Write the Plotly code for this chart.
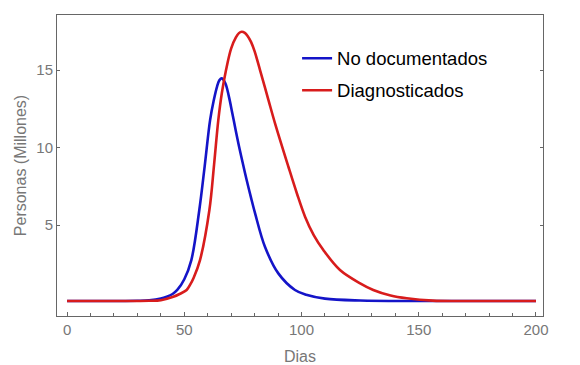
import plotly.graph_objects as go

# Data
dias_nodoc = [0, 20, 30, 35, 40, 42.5, 45, 47, 50, 53, 56.4, 58.7, 61, 62.5, 64, 65,
              66, 67.5, 69, 70.5, 72, 73.3, 75, 76.6, 78.4, 80.2, 84.4, 90.1, 97.2,
              102, 110, 125, 150, 200]
nodoc = [0.1, 0.1, 0.11, 0.14, 0.25, 0.37, 0.55, 0.81, 1.5, 2.74, 5.97, 8.8, 11.77,
         13.0, 13.95, 14.35, 14.46, 14.15, 13.3, 12.2, 11.05, 10.1, 8.95, 7.9, 6.8,
         5.75, 3.6, 1.88, 0.81, 0.5, 0.25, 0.13, 0.1, 0.1]

dias_diag = [0, 30, 35, 40, 45.3, 48, 51, 52.5, 54, 56.7, 60.7, 62.7, 64.5, 66, 67.8,
             70, 72, 73.3, 74.5, 75.8, 77, 78.5, 80, 82.3, 85.9, 88.7, 94.4, 98,
             101.5, 105.2, 109.3, 116.4, 125, 130.6, 138, 144.9, 156, 170, 200]
diag = [0.1, 0.1, 0.11, 0.15, 0.37, 0.55, 0.81, 1.15, 1.6, 2.74, 5.97, 8.9, 11.77,
        13.5, 15.0, 16.4, 17.1, 17.38, 17.47, 17.4, 17.2, 16.8, 16.2, 15.0, 13.06,
        11.56, 8.76, 7.05, 5.54, 4.35, 3.39, 2.1, 1.24, 0.81, 0.45, 0.27, 0.12, 0.1,
        0.1]

x_ticks = [0, 50, 100, 150, 200]
y_ticks = [5, 10, 15]

gray = "#777777"
frame = "#666666"

fig = go.Figure()
fig.add_trace(go.Scatter(x=dias_nodoc, y=nodoc, mode="lines", name="No documentados",
                         line=dict(color="#1414c8", width=2.6, shape="spline", smoothing=1.0),
                         legendgroup="a"))
fig.add_trace(go.Scatter(x=dias_diag, y=diag, mode="lines", name="Diagnosticados",
                         line=dict(color="#d81c1c", width=2.6, shape="spline", smoothing=1.0),
                         legendgroup="b"))

fig.update_layout(
    width=580, height=365,
    margin=dict(l=57, r=37, t=15, b=49, autoexpand=False),
    paper_bgcolor="white", plot_bgcolor="white",
    font=dict(family="Liberation Sans, Arial, sans-serif", color=gray),
    legend=dict(x=0.494, y=0.918, xanchor="left", yanchor="top",
                font=dict(size=18.5, color="black"), tracegroupgap=5,
                bgcolor="rgba(0,0,0,0)"),
    xaxis=dict(range=[-4.3, 203], tickvals=x_ticks, showgrid=False, zeroline=False,
               automargin=False,
               showline=True, linecolor=frame, linewidth=1, mirror=True,
               ticks="inside", ticklen=4, tickcolor=frame,
               minor=dict(dtick=10, tick0=0, ticks="inside", ticklen=3, tickcolor=frame),
               tickfont=dict(size=15, color=gray),
               title=dict(text="Dias", font=dict(size=16, color=gray), standoff=13)),
    yaxis=dict(range=[-0.87, 18.55], tickvals=y_ticks, showgrid=False, zeroline=False,
               automargin=False,
               showline=True, linecolor=frame, linewidth=1, mirror="ticks",
               ticks="inside", ticklen=3, tickcolor=frame,
               tickfont=dict(size=15, color=gray),
               title=dict(text="Personas (Millones)", font=dict(size=16, color=gray), standoff=5)),
)

fig.write_html("out.html", post_script="document.body.style.margin='0';",
               config={"displayModeBar": False})
